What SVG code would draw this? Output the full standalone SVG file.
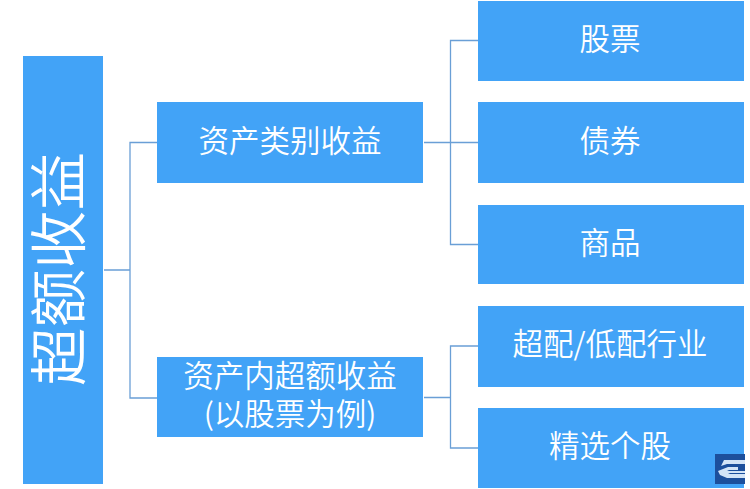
<svg xmlns="http://www.w3.org/2000/svg" width="750" height="489" viewBox="0 0 750 489">
  <style>
    .box { fill: #42a3f7; }
    .wire { fill: none; stroke: #6a9fd6; stroke-width: 1.3; }
    text { fill: #ffffff; font-family: "Noto Sans CJK SC", "Noto Sans", sans-serif; font-weight: 350; text-anchor: middle; font-size: 30.5px; }
  </style>
  <rect width="750" height="489" fill="#ffffff"/>
  <g id="connectors">
    <path class="wire" d="M104 270H130M157 142.500H130V398H157"/>
    <path class="wire" d="M424 142.500H478M478 40.500H450.500V244.500H478"/>
    <path class="wire" d="M424 397.500H450.500M478 346H450.500V448H478"/>
  </g>
  <g id="root">
    <rect class="box" x="23" y="56" width="80" height="428"/>
    <text transform="translate(80 269) rotate(-90)" style="font-size:58.500px">超额收益</text>
  </g>
  <g id="asset-class">
    <rect class="box" x="157" y="102" width="266" height="81"/>
    <text x="290" y="152">资产类别收益</text>
  </g>
  <g id="within-asset">
    <rect class="box" x="157" y="357" width="266" height="80"/>
    <text x="290" y="387"><tspan x="290">资产内超额收益</tspan><tspan x="290" dy="38">(以股票为例)</tspan></text>
  </g>
  <g id="stocks">
    <rect class="box" x="478" y="1" width="266" height="80"/>
    <text x="610" y="50">股票</text>
  </g>
  <g id="bonds">
    <rect class="box" x="478" y="102" width="266" height="81"/>
    <text x="610" y="152">债券</text>
  </g>
  <g id="commodities">
    <rect class="box" x="478" y="205" width="266" height="79"/>
    <text x="610" y="254">商品</text>
  </g>
  <g id="sector-weights">
    <rect class="box" x="478" y="306" width="266" height="81"/>
    <text x="610" y="355">超配/低配行业</text>
  </g>
  <g id="stock-picking">
    <rect class="box" x="478" y="408" width="266" height="80"/>
    <text x="610" y="457">精选个股</text>
  </g>
  <g id="badge">
    <rect x="715" y="454" width="30" height="30" fill="#1c4f9c"/>
    <path d="M724 460H745V464H727L721 466ZM718 471L728 467H738V470H729L727 471H745V473H728L730 474H745V478H727L720 475Z" fill="#d3e4f7"/>
  </g>
</svg>
